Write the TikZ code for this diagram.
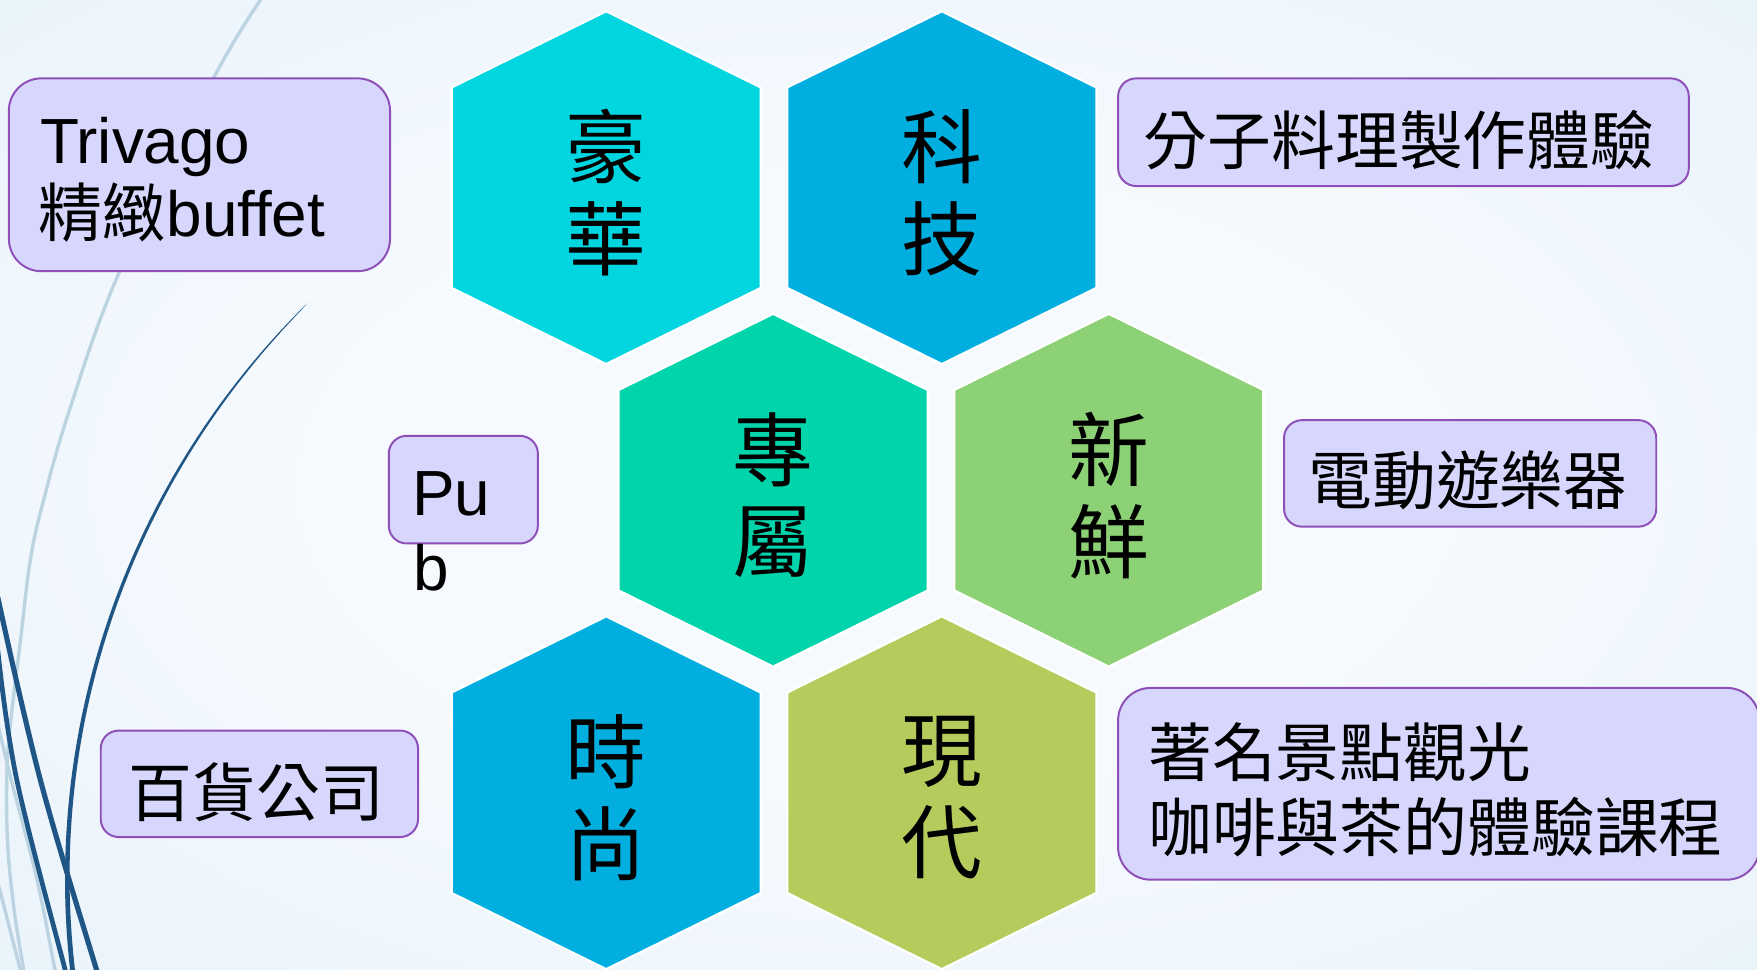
\documentclass[tikz,border=0pt]{standalone}
\usepackage{fontspec}
\setmainfont{Liberation Sans}
\newfontfamily\cjk{Noto Sans CJK TC}
\definecolor{bgin}{HTML}{F6FAFE}
\definecolor{bgout}{HTML}{DAECF7}
\definecolor{boxfill}{HTML}{D7D6FD}
\definecolor{boxline}{HTML}{8E4FB8}
\definecolor{darkcurve}{HTML}{1F5685}
\definecolor{lightcurve}{HTML}{BCD3E2}
\definecolor{hexA}{HTML}{00D5E0}
\definecolor{hexB}{HTML}{00AEE0}
\definecolor{hexC}{HTML}{00D4AB}
\definecolor{hexD}{HTML}{8DD176}
\definecolor{hexE}{HTML}{B5CC5D}
\pgfdeclareradialshading{bgrad}{\pgfpoint{0bp}{0bp}}{color(0bp)=(bgin); color(15bp)=(bgin); color(62bp)=(bgout); color(80bp)=(bgout)}
\newcommand{\hexpath}[2]{(#1,#2) ++(0,-157.5) -- ++(138,68) -- ++(0,179) -- ++(-138,68) -- ++(-138,-68) -- ++(0,-179) -- cycle}
\tikzset{
  hexfill/.style={fill=#1, draw=white, line width=0.6pt},
  hextext/.style={font=\cjk\fontsize{20.5}{23.3}\selectfont, align=center, inner sep=0pt, text=black},
  infobox/.style={fill=boxfill, draw=boxline, line width=0.5pt, inner sep=0pt},
  bigbox/.style={infobox, rounded corners=0.29cm},
  smallbox/.style={infobox, rounded corners=0.16cm},
  boxtext/.style={font=\fontsize{16.2}{19}\selectfont, inner sep=0pt, anchor=base west, text=black},
  cjktext/.style={boxtext, font=\cjk\fontsize{16.2}{19}\selectfont},
}
\begin{document}
\begin{tikzpicture}[x=0.01cm, y=-0.01cm]
\useasboundingbox (0,0) rectangle (1568,865);
\clip (0,0) rectangle (1568,865);
\shade[shading=bgrad] (0,0) rectangle (1568,865);

% decorative curves on the left
\draw[lightcurve, line width=0.85pt] plot[smooth, tension=0.6] coordinates {(236,-5) (191,69) (106,244) (62,366) (39,446) (27,500) (18,574) (9,649) (6,696) (7,756) (13,815) (21,865) (23,880)};
\draw[lightcurve, line width=0.85pt] plot[smooth, tension=0.6] coordinates {(-2,646) (10,696) (33,785) (49,865) (53,880)};
\draw[lightcurve, line width=0.85pt] plot[smooth, tension=0.6] coordinates {(-2,787) (18,865) (22,880)};
\draw[darkcurve, line width=1.3pt] plot[smooth, tension=0.6] coordinates {(-2,533) (36,696) (86,865) (91,880)};
\draw[darkcurve, line width=1.2pt] plot[smooth, tension=0.6] coordinates {(-2,580) (15,696) (58,865) (62,880)};
% tapered arc
\fill[darkcurve] plot[domain=45.6:-8, samples=80, variable=\t] ({778-720*cos(\t)},{785-720*sin(\t)})
  -- plot[domain=-8:45.6, samples=80, variable=\t] ({778-(720-4.4*sqrt(max(0,(45.6-\t)/53.6)))*cos(\t)},{785-(720-4.4*sqrt(max(0,(45.6-\t)/53.6)))*sin(\t)}) -- cycle;

% hexagons
\fill[hexfill=hexA] \hexpath{541}{167.5};
\fill[hexfill=hexB] \hexpath{840.5}{167.5};
\fill[hexfill=hexC] \hexpath{690}{437.5};
\fill[hexfill=hexD] \hexpath{989.5}{437.5};
\fill[hexfill=hexB] \hexpath{541}{707.5};
\fill[hexfill=hexE] \hexpath{840.5}{707.5};

\node[hextext] (hao) at (541,172) {豪\\華};
\node[hextext] (ke) at (840.5,172) {科\\技};
\node[hextext] (zhuan) at (690,442) {專\\屬};
\node[hextext] (xin) at (989.5,442) {新\\鮮};
\node[hextext] (shi) at (541,712) {時\\尚};
\node[hextext] (xian) at (840.5,712) {現\\代};

% boxes
\node[bigbox, minimum width=3.40cm, minimum height=1.72cm] (trivago) at (178,156) {};
\node[smallbox, minimum width=5.09cm, minimum height=0.96cm] (fenzi) at (1252.5,118) {};
\node[smallbox, minimum width=3.32cm, minimum height=0.95cm] (diandong) at (1312,422.5) {};
\node[smallbox, minimum width=1.33cm, minimum height=0.96cm] (pub) at (413.5,437) {};
\node[smallbox, minimum width=2.83cm, minimum height=0.95cm] (baihuo) at (231.5,699.5) {};
\node[bigbox, minimum width=5.72cm, minimum height=1.71cm] (zhuming) at (1284,699.5) {};

% box texts
\node[boxtext] (trivago1) at (35,146) {Trivago};
\node[boxtext] (trivago2) at (34,211) {{\cjk 精緻}buffet};
\node[cjktext] (fenzit) at (1020,146.5) {分子料理製作體驗};
\node[cjktext] (diandongt) at (1167,450) {電動遊樂器};
\node[boxtext] (pub1) at (367,460) {Pu};
\node[boxtext] (pub2) at (368,527) {b};
\node[cjktext] (baihuot) at (114,729) {百貨公司};
\node[cjktext] (zhuming1) at (1024,693) {著名景點觀光};
\node[cjktext] (zhuming2) at (1024,760) {咖啡與茶的體驗課程};
\end{tikzpicture}
\end{document}
